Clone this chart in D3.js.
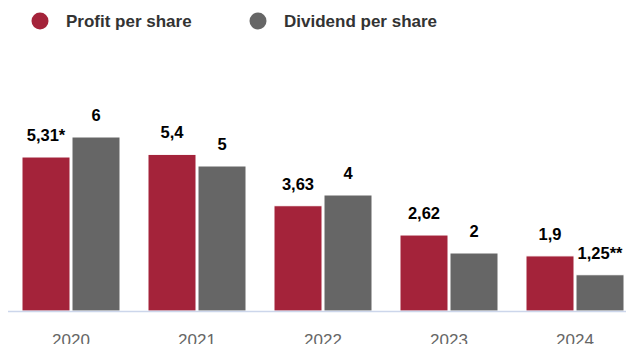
<!DOCTYPE html>
<html>
<head>
<meta charset="utf-8">
<script src="https://d3js.org/d3.v7.min.js"></script>
<style>
  body { margin: 0; background: #fff; }
  svg { display: block; font-family: "Liberation Sans", Arial, sans-serif; }
</style>
</head>
<body>
<svg id="chart" width="626" height="344"></svg>
<script>
// data
var years = ["2020", "2021", "2022", "2023", "2024"]
var seriesNames = ["Profit per share", "Dividend per share"]
var profit = [5.31, 5.4, 3.63, 2.62, 1.9]
var dividend = [6, 5, 4, 2, 1.25]
var profitLabels = ["5,31*", "5,4", "3,63", "2,62", "1,9"]
var dividendLabels = ["6", "5", "4", "2", "1,25**"]
var colors = ["#a4233a", "#666666"]

var svg = d3.select("#chart")
var baseY = 311

// plot area runs past the right edge, the picture is cropped there
var x = d3.scaleBand().domain(years).range([8, 638]).paddingInner(0).paddingOuter(0)
var xs = d3.scaleBand().domain([0, 1]).range([0, x.bandwidth()]).paddingInner(0).paddingOuter(0.26)
var y = d3.scaleLinear().domain([0, 6]).range([baseY, 137])

var rows = years.map(function(yr, i) {
  return [
    { year: yr, s: 0, v: profit[i], label: profitLabels[i] },
    { year: yr, s: 1, v: dividend[i], label: dividendLabels[i] }
  ]
})

var groups = svg.selectAll("g.year")
  .data(rows)
  .enter().append("g")
  .attr("class", "year")
  .attr("transform", function(d, i) { return "translate(" + x(years[i]) + ",0)" })

groups.selectAll("rect")
  .data(function(d) { return d })
  .enter().append("rect")
  .attr("x", function(d) { return xs(d.s) + 1 })
  .attr("width", xs.bandwidth() - 2)
  .attr("y", function(d) { return y(d.v) })
  .attr("height", function(d) { return baseY - y(d.v) })
  .attr("fill", function(d) { return colors[d.s] })
  .attr("stroke", "#fff")
  .attr("stroke-width", 1)

groups.selectAll("text.val")
  .data(function(d) { return d })
  .enter().append("text")
  .attr("class", "val")
  .attr("x", function(d) { return xs(d.s) + xs.bandwidth() / 2 })
  .attr("y", function(d) { return y(d.v) - 16 })
  .attr("text-anchor", "middle")
  .attr("font-size", 16.5)
  .attr("font-weight", "bold")
  .attr("fill", "#000")
  .text(function(d) { return d.label })

// axis line
svg.append("line")
  .attr("x1", 8).attr("x2", 626)
  .attr("y1", baseY + 0.5).attr("y2", baseY + 0.5)
  .attr("stroke", "#ccd6eb")
  .attr("stroke-width", 1.5)

// x labels (cut off at the bottom, like the source picture)
var xAxis = svg.append("g")
  .attr("transform", "translate(0," + baseY + ")")
  .call(d3.axisBottom(x).tickSize(0).tickPadding(23))
xAxis.select(".domain").remove()
xAxis.selectAll("text")
  .attr("font-size", 17)
  .attr("font-family", "Liberation Sans, Arial, sans-serif")
  .attr("fill", "#666")

// legend
var legendX = [40, 258]
var legend = svg.selectAll("g.legend")
  .data(seriesNames)
  .enter().append("g")
  .attr("class", "legend")
  .attr("transform", function(d, i) { return "translate(" + legendX[i] + ",21)" })
legend.append("circle")
  .attr("r", 8.5)
  .attr("fill", function(d, i) { return colors[i] })
legend.append("text")
  .attr("x", 26)
  .attr("y", 6)
  .attr("font-size", 17)
  .attr("font-weight", "bold")
  .attr("fill", "#333")
  .text(function(d) { return d })
</script>
</body>
</html>
